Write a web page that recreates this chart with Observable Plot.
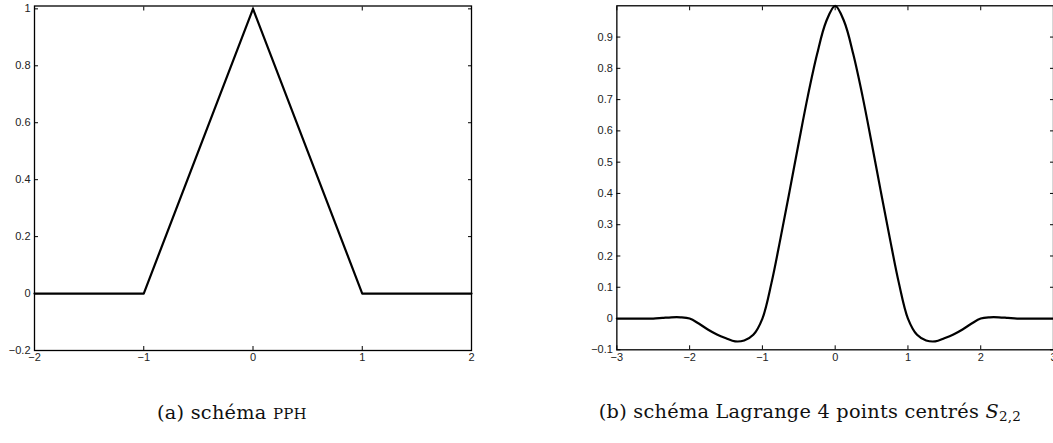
<!DOCTYPE html>
<html>
<head>
<meta charset="utf-8">
<script src="https://cdn.jsdelivr.net/npm/d3@7"></script>
<script src="https://cdn.jsdelivr.net/npm/@observablehq/plot@0.6"></script>
<style>
  html, body { margin: 0; padding: 0; background: #fff; }
  body { width: 1053px; height: 443px; overflow: hidden; position: relative; }
  .panel { position: absolute; top: 0; }
  .caption {
    position: absolute;
    font-family: "DejaVu Serif", "Liberation Serif", serif;
    font-size: 19.3px;
    letter-spacing: 0.25px;
    color: #111;
    white-space: nowrap;
    transform: translateX(-50%);
  }
  .caption .sc { font-variant: small-caps; font-size: 1.08em; }
  .caption sub { font-size: 0.7em; vertical-align: -0.25em; }
</style>
</head>
<body>
<div id="a" class="panel" style="left:0px"></div>
<div id="b" class="panel" style="left:540px"></div>
<div class="caption" style="left:232px;top:400px">(a) schéma <span class="sc">pph</span></div>
<div class="caption" style="left:810px;top:400px">(b) schéma Lagrange 4 points centrés <i>S</i><sub>2,2</sub></div>
<script>
// (a) PPH scheme: hat function
const hatX = [-2, -1, 0, 1, 2];
const hatY = [0, 0, 1, 0, 0];
const hatXTicks = [-2, -1, 0, 1, 2];
const hatYTicks = [-0.2, 0, 0.2, 0.4, 0.6, 0.8, 1];

// (b) centred 4-point Lagrange scheme S_{2,2}: limit function samples
const lagX = [
  -3, -2.875, -2.75, -2.625, -2.5, -2.375, -2.25, -2.125,
  -2, -1.875, -1.75, -1.625, -1.5, -1.375, -1.25, -1.125,
  -1, -0.875, -0.75, -0.625, -0.5, -0.375, -0.25, -0.125,
  0, 0.125, 0.25, 0.375, 0.5, 0.625, 0.75, 0.875,
  1, 1.125, 1.25, 1.375, 1.5, 1.625, 1.75, 1.875,
  2, 2.125, 2.25, 2.375, 2.5, 2.625, 2.75, 2.875, 3
];
const lagY = [
  0, 0, 0, 0, 0, 0.002, 0.004, 0.004,
  0, -0.016, -0.035, -0.051, -0.063, -0.073, -0.070, -0.052,
  0, 0.114, 0.258, 0.409, 0.563, 0.712, 0.844, 0.949,
  1, 0.949, 0.844, 0.712, 0.563, 0.409, 0.258, 0.114,
  0, -0.052, -0.070, -0.073, -0.063, -0.051, -0.035, -0.016,
  0, 0.004, 0.004, 0.002, 0, 0, 0, 0, 0
];
const lagXTicks = [-3, -2, -1, 0, 1, 2, 3];
const lagYTicks = [-0.1, 0, 0.1, 0.2, 0.3, 0.4, 0.5, 0.6, 0.7, 0.8, 0.9];

const fmt = d => String(d).replace("-", "\u2212");
const blank = () => "";

function panel({xs, ys, xDomain, yDomain, xTicks, yTicks, width, marginLeft, marginRight, marginTop, curve}) {
  const data = xs.map((x, i) => ({x, y: ys[i]}));
  const tickOpts = {tickSize: -4, tickFormat: blank, label: null, stroke: "#000"};
  return Plot.plot({
    width,
    height: 380,
    marginLeft,
    marginRight,
    marginTop,
    marginBottom: 30,
    style: {
      fontFamily: "'Liberation Sans', Arial, sans-serif",
      fontSize: "11px",
      color: "#222",
      background: "transparent",
      overflow: "visible"
    },
    x: {domain: xDomain},
    y: {domain: yDomain},
    marks: [
      Plot.line(data, {x: "x", y: "y", stroke: "#000", strokeWidth: 2.2, curve}),
      // inward ticks on all four sides of the box
      Plot.axisX(xTicks, {anchor: "bottom", ...tickOpts}),
      Plot.axisX(xTicks, {anchor: "top", ...tickOpts}),
      Plot.axisY(yTicks, {anchor: "left", ...tickOpts}),
      Plot.axisY(yTicks, {anchor: "right", ...tickOpts}),
      // tick labels
      Plot.axisX(xTicks, {anchor: "bottom", tickSize: 0, tickPadding: 3, tickFormat: fmt, label: null}),
      Plot.axisY(yTicks, {anchor: "left", tickSize: 0, tickPadding: 4, tickFormat: fmt, label: null}),
      Plot.frame({stroke: "#000", strokeWidth: 1.3})
    ]
  });
}

document.getElementById("a").append(panel({
  xs: hatX, ys: hatY,
  xDomain: [-2, 2], yDomain: [-0.2, 1.01],
  xTicks: hatXTicks, yTicks: hatYTicks,
  width: 490, marginLeft: 34, marginRight: 19, marginTop: 5.5,
  curve: "linear"
}));

document.getElementById("b").append(panel({
  xs: lagX, ys: lagY,
  xDomain: [-3, 3], yDomain: [-0.1, 1],
  xTicks: lagXTicks, yTicks: lagYTicks,
  width: 514, marginLeft: 76.5, marginRight: 0, marginTop: 5.3,
  curve: "catmull-rom"
}));
</script>
</body>
</html>
